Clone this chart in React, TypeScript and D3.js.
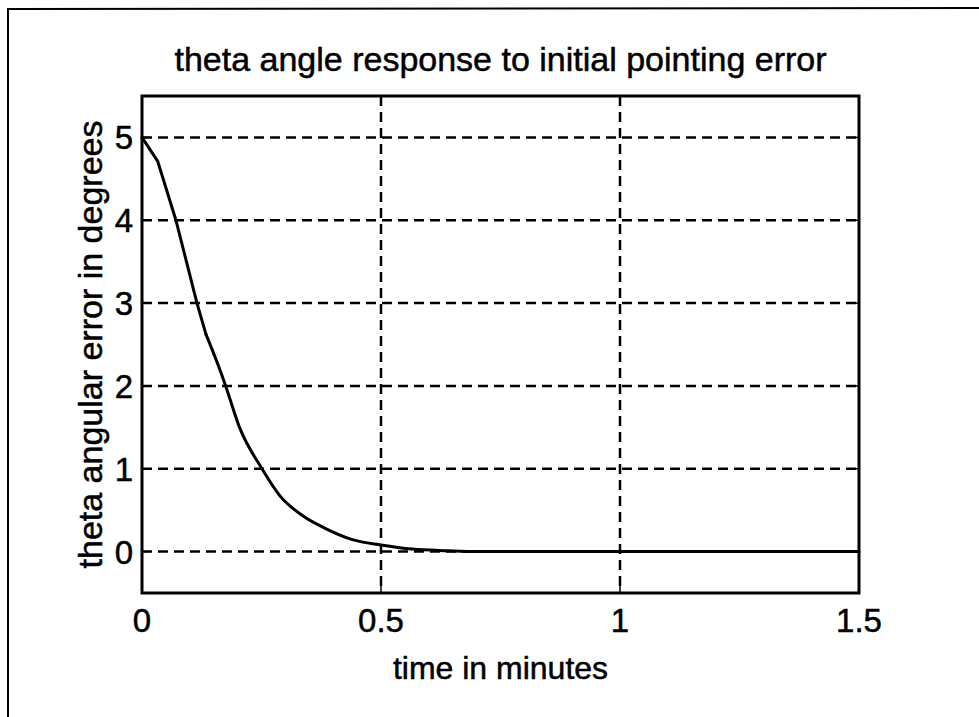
import React from "react";
import * as d3 from "d3";

const timeMin: number[] = [0, 0.033, 0.071, 0.115, 0.134, 0.162, 0.175, 0.204, 0.251, 0.289, 0.337, 0.38, 0.44, 0.5, 0.565, 0.64, 0.7, 1.0, 1.5];
const thetaDeg: number[] = [5, 4.71, 4.0, 3.0, 2.62, 2.21, 2.0, 1.5, 1.0, 0.67, 0.43, 0.29, 0.145, 0.08, 0.03, 0.01, 0, 0, 0];
const xTicks: number[] = [0, 0.5, 1, 1.5];
const xTickLabels: string[] = ["0", "0.5", "1", "1.5"];
const yTicks: number[] = [0, 1, 2, 3, 4, 5];
const yTickLabels: string[] = ["0", "1", "2", "3", "4", "5"];
const titleText = "theta angle response to initial pointing error";
const xLabelText = "time in minutes";
const yLabelText = "theta angular error in degrees";

const W = 979, H = 717;
const L = 142, R = 859, T = 96, B = 593;
const FONT = "'Liberation Sans', Arial, Helvetica, sans-serif";
const KNEE = 4; // sample index where the sampled, piecewise response turns smooth

export default function App() {
  const x = d3.scaleLinear().domain([0, 1.5]).range([L, R]);
  const y = d3.scaleLinear().domain([-0.5, 5.5]).range([B, T]);
  const pts: [number, number][] = timeMin.map((t, i) => [t, thetaDeg[i]]);
  const linear = d3.line<[number, number]>().x((d) => x(d[0])).y((d) => y(d[1])).curve(d3.curveLinear);
  const smooth = d3.line<[number, number]>().x((d) => x(d[0])).y((d) => y(d[1])).curve(d3.curveMonotoneX);
  const pathA = linear(pts.slice(0, KNEE + 1)) || "";
  const pathB = smooth(pts.slice(KNEE)) || "";
  const dash = "10,6";
  const txt = { fontFamily: FONT, fill: "#000", stroke: "#000", strokeWidth: 0.5 } as const;
  return (
    <svg width={W} height={H} style={{ position: "absolute", left: 0, top: 0, background: "#fff" }}>
      <rect x={0} y={0} width={W} height={H} fill="#fff" />
      {/* outer frame */}
      <path d={`M8,${H + 5} L8,9 L${W + 5},8`} fill="none" stroke="#000" strokeWidth={2} />
      {/* grid */}
      {yTicks.map((t) => (
        <line key={"gy" + t} x1={L} x2={R} y1={y(t)} y2={y(t)} stroke="#000" strokeWidth={2.5} strokeDasharray={dash} />
      ))}
      {xTicks.filter((t) => t > 0 && t < 1.5).map((t) => (
        <line key={"gx" + t} x1={x(t)} x2={x(t)} y1={T} y2={B} stroke="#000" strokeWidth={2.5} strokeDasharray={dash} />
      ))}
      {/* ticks */}
      {yTicks.map((t) => (
        <g key={"ty" + t}>
          <line x1={L} x2={L + 7} y1={y(t)} y2={y(t)} stroke="#000" strokeWidth={1.5} />
          <line x1={R} x2={R - 7} y1={y(t)} y2={y(t)} stroke="#000" strokeWidth={1.5} />
        </g>
      ))}
      {xTicks.map((t) => (
        <g key={"tx" + t}>
          <line x1={x(t)} x2={x(t)} y1={B} y2={B - 7} stroke="#000" strokeWidth={1.5} />
          <line x1={x(t)} x2={x(t)} y1={T} y2={T + 7} stroke="#000" strokeWidth={1.5} />
        </g>
      ))}
      {/* data */}
      <path d={pathA} fill="none" stroke="#000" strokeWidth={3} strokeLinejoin="round" strokeLinecap="round" />
      <path d={pathB} fill="none" stroke="#000" strokeWidth={3} strokeLinejoin="round" strokeLinecap="round" />
      {/* axes box */}
      <rect x={L} y={T} width={R - L} height={B - T} fill="none" stroke="#000" strokeWidth={3} />
      {/* tick labels */}
      {xTicks.map((t, i) => (
        <text key={"lx" + t} x={x(t)} y={632} textAnchor="middle" fontSize={33} {...txt}>{xTickLabels[i]}</text>
      ))}
      {yTicks.map((t, i) => (
        <text key={"ly" + t} x={133} y={y(t) + 12} textAnchor="end" fontSize={33} {...txt}>{yTickLabels[i]}</text>
      ))}
      <text x={(L + R) / 2} y={71} textAnchor="middle" fontSize={34} {...txt}>{titleText}</text>
      <text x={(L + R) / 2} y={679} textAnchor="middle" fontSize={32} {...txt}>{xLabelText}</text>
      <text transform={`translate(102,${(T + B) / 2}) rotate(-90)`} textAnchor="middle" fontSize={34} {...txt}>{yLabelText}</text>
    </svg>
  );
}
